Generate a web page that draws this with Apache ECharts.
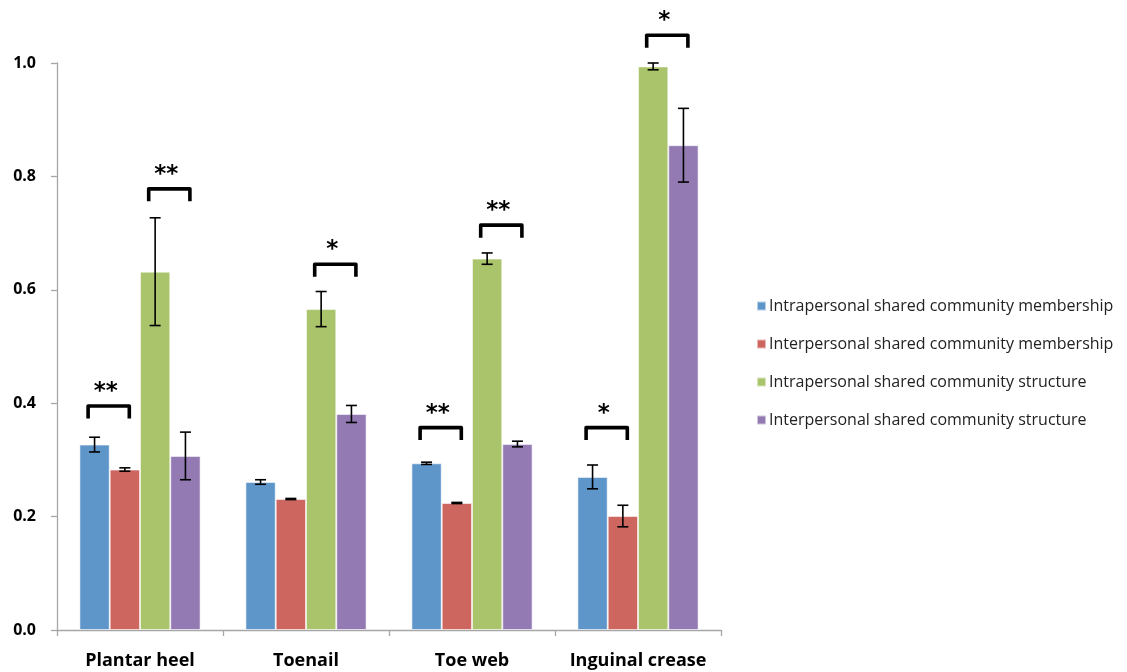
<!DOCTYPE html>
<html>
<head>
<meta charset="utf-8">
<script src="https://cdn.jsdelivr.net/npm/echarts@6/dist/echarts.min.js"></script>
<style>
  html, body { margin: 0; padding: 0; background: #fff; }
  #chart { width: 1127px; height: 672px; }
</style>
</head>
<body>
<div id="chart"></div>
<script>
// Body sites on the x axis
const categories = ['Plantar heel', 'Toenail', 'Toe web', 'Inguinal crease'];
const seriesNames = [
  'Intrapersonal shared community membership',
  'Interpersonal shared community membership',
  'Intrapersonal shared community structure',
  'Interpersonal shared community structure'
];
const yTicks = [0.0, 0.2, 0.4, 0.6, 0.8, 1.0];

// Means and error half-widths, one entry per body site
const intraMembership    = [0.327, 0.261, 0.294, 0.270];
const intraMembershipErr = [0.013, 0.004, 0.002, 0.021];
const interMembership    = [0.283, 0.231, 0.224, 0.201];
const interMembershipErr = [0.003, 0.001, 0.001, 0.019];
const intraStructure     = [0.632, 0.566, 0.655, 0.994];
const intraStructureErr  = [0.095, 0.031, 0.010, 0.006];
const interStructure     = [0.307, 0.381, 0.328, 0.855];
const interStructureErr  = [0.042, 0.015, 0.005, 0.065];

// Significance brackets: body site, first bar of the compared pair, bracket height, label
const sigSite  = [0, 0, 1, 2, 2, 3, 3];
const sigPair  = [0, 2, 2, 0, 2, 0, 2];
const sigLevel = [0.395, 0.778, 0.645, 0.357, 0.714, 0.357, 1.049];
const sigLabel = ['**', '**', '*', '**', '**', '*', '*'];

const colors = ['#5F96CA', '#CE6660', '#AAC46B', '#937AB3'];
const means = [intraMembership, interMembership, intraStructure, interStructure];
const errs = [intraMembershipErr, interMembershipErr, intraStructureErr, interStructureErr];

const GAP = 0.27; // barCategoryGap as a fraction
const nBars = means.length;

function barCenterX(api, site, barIndex, y) {
  const c = api.coord([site, y]);
  const band = api.size([1, 0])[0];
  const bw = band * (1 - GAP) / nBars;
  return { x: c[0] + (barIndex - (nBars - 1) / 2) * bw, y: c[1], bw: bw };
}

const barSeries = means.map((vals, i) => ({
  name: seriesNames[i],
  type: 'bar',
  data: vals,
  barGap: '0%',
  barCategoryGap: (GAP * 100) + '%',
  itemStyle: { color: colors[i], borderColor: 'rgba(255,255,255,0.55)', borderWidth: 1 },
  emphasis: { disabled: true },
  z: 2
}));

const errorSeries = means.map((vals, i) => ({
  type: 'custom',
  name: 'err' + i,
  data: vals.map((v, k) => [k, v - errs[i][k], v + errs[i][k]]),
  z: 5,
  silent: true,
  renderItem: function (params, api) {
    const site = api.value(0);
    const lo = barCenterX(api, site, i, api.value(1));
    const hi = barCenterX(api, site, i, api.value(2));
    const cap = 5.5;
    const st = { stroke: '#000', lineWidth: 1.6 };
    return {
      type: 'group',
      children: [
        { type: 'line', shape: { x1: lo.x, y1: lo.y, x2: hi.x, y2: hi.y }, style: st },
        { type: 'line', shape: { x1: lo.x - cap, y1: lo.y, x2: lo.x + cap, y2: lo.y }, style: st },
        { type: 'line', shape: { x1: hi.x - cap, y1: hi.y, x2: hi.x + cap, y2: hi.y }, style: st }
      ]
    };
  }
}));

const bracketSeries = {
  type: 'custom',
  name: 'sig',
  clip: false,
  silent: true,
  z: 6,
  data: sigSite.map((s, k) => [s, sigPair[k], sigLevel[k]]),
  renderItem: function (params, api) {
    const site = api.value(0);
    const pair = api.value(1);
    const a = barCenterX(api, site, pair, api.value(2));
    const bw = a.bw;
    const mid = a.x + bw / 2 - 1;
    const half = bw * 0.68;
    const leg = 12.5;
    const top = a.y;
    return {
      type: 'group',
      children: [
        {
          type: 'polyline',
          shape: { points: [[mid - half, top + leg], [mid - half, top], [mid + half, top], [mid + half, top + leg]] },
          style: { stroke: '#000', lineWidth: 3.6, fill: null, lineJoin: 'round', lineCap: 'butt' }
        },
        {
          type: 'text',
          x: mid - 3, y: top - 14,
          style: {
            text: sigLabel[params.dataIndex],
            font: 'bold 23px "DejaVu Sans", sans-serif',
            fill: '#000',
            align: 'center',
            verticalAlign: 'middle'
          }
        }
      ]
    };
  }
};

const chart = echarts.init(document.getElementById('chart'), null, { renderer: 'canvas' });
chart.setOption({
  animation: false,
  backgroundColor: '#fff',
  grid: { left: 57, top: 63, width: 664, height: 567, containLabel: false },
  legend: {
    data: seriesNames,
    orient: 'vertical',
    left: 756,
    top: 296,
    padding: 0,
    icon: 'rect',
    itemWidth: 9,
    itemHeight: 9,
    itemGap: 18,
    selectedMode: false,
    textStyle: { fontFamily: '"Open Sans", sans-serif', fontSize: 16, color: '#222', lineHeight: 20, padding: [0, 0, 0, -2] }
  },
  xAxis: {
    type: 'category',
    data: categories,
    axisLine: { lineStyle: { color: '#A6A6A6', width: 1.3 } },
    axisTick: { show: true, interval: 0, alignWithLabel: false, length: 6, lineStyle: { color: '#A6A6A6', width: 1.3 } },
    axisLabel: { interval: 0, hideOverlap: false, margin: 22, fontFamily: '"Open Sans", sans-serif', fontWeight: 'bold', fontSize: 18, color: '#000' }
  },
  yAxis: {
    type: 'value',
    min: 0,
    max: 1,
    interval: 0.2,
    axisLine: { show: true, lineStyle: { color: '#A6A6A6', width: 1.3 } },
    axisTick: { show: true, length: 6, lineStyle: { color: '#A6A6A6', width: 1.3 } },
    splitLine: { show: false },
    axisLabel: {
      margin: 21,
      fontFamily: '"Open Sans", sans-serif',
      fontWeight: 'bold',
      fontSize: 16,
      color: '#000',
      formatter: function (v) {
        const t = yTicks.find(x => Math.abs(x - v) < 1e-9);
        return (t !== undefined ? t : v).toFixed(1);
      }
    }
  },
  series: barSeries.concat(errorSeries, [bracketSeries])
});
</script>
</body>
</html>
